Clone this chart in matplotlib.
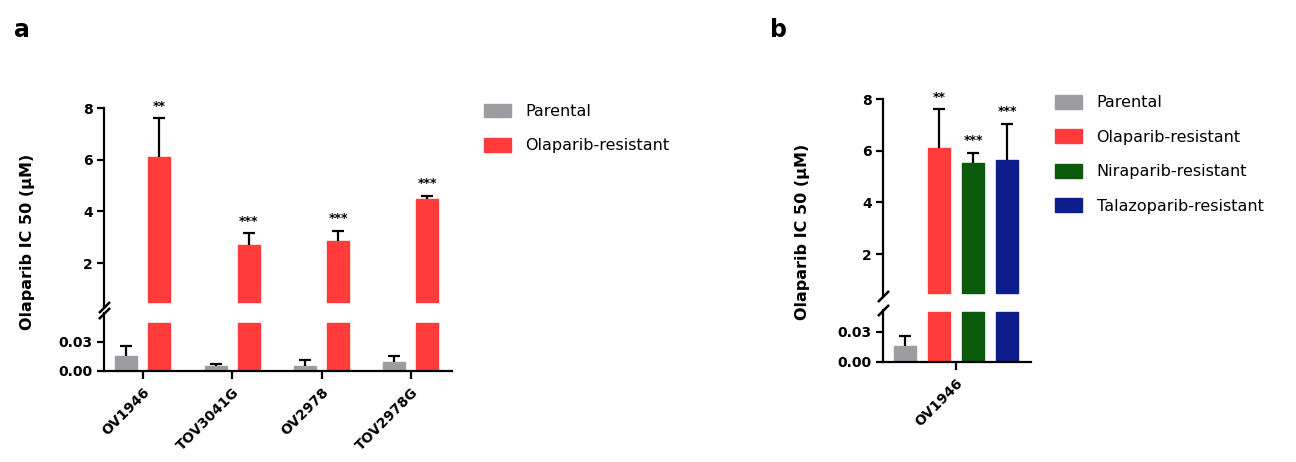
"""
Olaparib IC50 of parental vs PARPi-resistant ovarian cancer cell lines (broken y axis).
"""
import numpy as np
import matplotlib
matplotlib.use('Agg')
import matplotlib.pyplot as plt
from matplotlib.patches import Patch

# ---- data ----
lines_a = ['OV1946', 'TOV3041G', 'OV2978', 'TOV2978G']
parental_a = [0.016, 0.0055, 0.005, 0.0095]
parental_a_err = [0.010, 0.0015, 0.006, 0.0055]
olap_a = [6.1, 2.7, 2.85, 4.48]
olap_a_err = [1.5, 0.45, 0.40, 0.12]
stars_a = ['**', '***', '***', '***']

lines_b = ['OV1946']
groups_b = ['Parental', 'Olaparib-resistant', 'Niraparib-resistant', 'Talazoparib-resistant']
values_b = [0.016, 6.1, 5.52, 5.65]
errors_b = [0.010, 1.5, 0.40, 1.40]
stars_b = ['', '**', '***', '***']

upper_ticks = [2, 4, 6, 8]
lower_ticks = [0.0, 0.03]
lower_ticklabels = ['0.00', '0.03']

colors = {
    'Parental': '#9d9da1',
    'Olaparib-resistant': '#ff3b3b',
    'Niraparib-resistant': '#0b5a0b',
    'Talazoparib-resistant': '#0d1e8a',
}

FLOOR = 0.5     # where the upper segment bars start
CEIL = 0.05     # where the lower segment bars stop
BOLD = dict(fontweight='bold', family='DejaVu Sans')
TICK_FS = 10

fig = plt.figure(figsize=(12.96, 4.62), dpi=100)


def style_axes(up, low, xlim, lower_top, upper_bottom):
    up.set_xlim(*xlim)
    low.set_xlim(*xlim)
    up.set_ylim(upper_bottom, 8)
    low.set_ylim(0, lower_top)
    for s in ['top', 'right', 'bottom']:
        up.spines[s].set_visible(False)
    for s in ['top', 'right']:
        low.spines[s].set_visible(False)
    for ax in (up, low):
        for s in ['left', 'bottom']:
            ax.spines[s].set_linewidth(1.6)
        ax.tick_params(axis='y', direction='out', length=5, width=1.6, labelsize=TICK_FS, pad=3)
        ax.tick_params(axis='x', direction='out', length=6, width=1.6, labelsize=TICK_FS, pad=4)
    up.set_xticks([])
    up.set_yticks(upper_ticks)
    up.set_yticklabels([str(t) for t in upper_ticks], **BOLD)
    low.set_yticks(lower_ticks)
    low.set_yticklabels(lower_ticklabels, **BOLD)
    # break marks on the y axis
    kw = dict(marker=[(-1, -1), (1, 1)], markersize=8, linestyle='none',
              color='k', mec='k', mew=1.8, clip_on=False)
    up.plot([0], [0], transform=up.transAxes, **kw)
    low.plot([0], [1], transform=low.transAxes, **kw)


def bar_both(up, low, x, value, err, color, width):
    low.bar(x, min(value, CEIL), width, color=color, edgecolor=color, zorder=2)
    if value > FLOOR:
        up.bar(x, value - FLOOR, width, bottom=FLOOR, color=color, edgecolor=color, zorder=2)
        ax = up
    else:
        ax = low
    _, caps, _ = ax.errorbar(x, value, yerr=[[0], [err]], fmt='none', ecolor='k',
                             elinewidth=1.6, capsize=4, capthick=1.6, zorder=3)
    caps[0].set_visible(False)  # only the upper whisker
    return ax


# ---- panel a ----
up_a = fig.add_axes([0.0802, 0.3355, 0.2685, 0.4307])
low_a = fig.add_axes([0.0802, 0.197, 0.2685, 0.1255])
style_axes(up_a, low_a, (-0.436, 3.46), 0.06, 0.3)
xa = np.arange(len(lines_a))
off, w = 0.185, 0.246
for i in range(len(lines_a)):
    bar_both(up_a, low_a, xa[i] - off, parental_a[i], parental_a_err[i], colors['Parental'], w)
    ax = bar_both(up_a, low_a, xa[i] + off, olap_a[i], olap_a_err[i], colors['Olaparib-resistant'], w)
    ax.annotate(stars_a[i], (xa[i] + off, olap_a[i] + olap_a_err[i]), xytext=(0, 4),
                textcoords='offset points', ha='center', va='bottom', fontsize=9, **BOLD)
low_a.set_xticks(xa)
low_a.set_xticklabels(lines_a, rotation=45, ha='right', rotation_mode='anchor', **BOLD)
fig.text(0.021, 1 - 242 / 462, 'Olaparib IC 50 (μM)', rotation=90, ha='center', va='center',
         fontsize=11.5, **BOLD)
fig.legend(handles=[Patch(color=colors[g], label=g) for g in groups_b[:2]],
           loc='upper left', bbox_to_anchor=(0.362, 0.807), frameon=False, fontsize=11.5,
           handlelength=1.7, handleheight=0.95, handletextpad=0.9, labelspacing=1.2)

# ---- panel b ----
up_b = fig.add_axes([0.6813, 0.3602, 0.1142, 0.4255])
low_b = fig.add_axes([0.6813, 0.2165, 0.1142, 0.1126])
style_axes(up_b, low_b, (-2.13, 2.19), 0.052, 0.4)
offs_b = np.array([-1.5, -0.5, 0.5, 1.5])
for j, g in enumerate(groups_b):
    ax = bar_both(up_b, low_b, offs_b[j], values_b[j], errors_b[j], colors[g], 0.64)
    if stars_b[j]:
        ax.annotate(stars_b[j], (offs_b[j], values_b[j] + errors_b[j]), xytext=(0, 4),
                    textcoords='offset points', ha='center', va='bottom', fontsize=9, **BOLD)
low_b.set_xticks([0])
low_b.set_xticklabels(lines_b, rotation=45, ha='right', rotation_mode='anchor', **BOLD)
fig.text(0.619, 1 - 232 / 462, 'Olaparib IC 50 (μM)', rotation=90, ha='center', va='center',
         fontsize=11.5, **BOLD)
fig.legend(handles=[Patch(color=colors[g], label=g) for g in groups_b],
           loc='upper left', bbox_to_anchor=(0.803, 0.826), frameon=False, fontsize=11.5,
           handlelength=1.7, handleheight=0.95, handletextpad=0.9, labelspacing=1.2)

# panel letters
fig.text(0.011, 0.935, 'a', fontsize=17, va='center', **BOLD)
fig.text(0.594, 0.935, 'b', fontsize=17, va='center', **BOLD)

fig.savefig('out.png', dpi=100)
